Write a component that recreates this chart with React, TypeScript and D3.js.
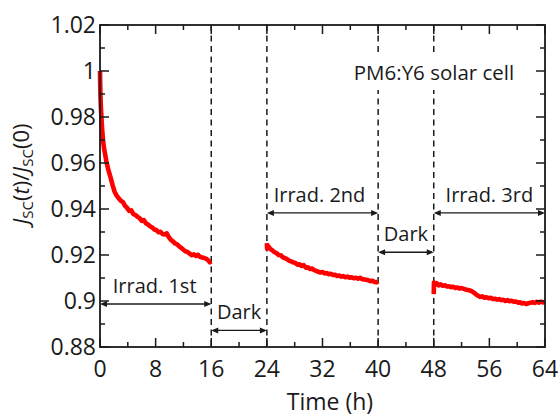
import React from "react";
import * as d3 from "d3";

const W = 559;
const H = 418;

const xTicksMajor = [0, 8, 16, 24, 32, 40, 48, 56, 64];
const yTickLabels = ["0.88", "0.9", "0.92", "0.94", "0.96", "0.98", "1", "1.02"];
const yTickValues = [0.88, 0.9, 0.92, 0.94, 0.96, 0.98, 1.0, 1.02];
const phaseBounds = [16, 24, 40, 48];

const irrad1: [number, number][] = [
  [0, 1.0], [0.03, 0.994], [0.08, 0.988], [0.13, 0.984], [0.2, 0.98], [0.3, 0.975], [0.43, 0.97],
  [0.6, 0.966], [0.9, 0.961], [1.2, 0.957], [1.5, 0.954], [1.8, 0.9505], [2.1, 0.9475],
  [2.4, 0.9458], [2.7, 0.9446], [3.0, 0.9436], [3.3, 0.9430], [3.6, 0.9414], [3.9, 0.9405],
  [4.2, 0.9392], [4.5, 0.9394], [4.8, 0.9378], [5.1, 0.9374], [5.4, 0.9366], [5.7, 0.9360],
  [6.0, 0.9348], [6.3, 0.9352], [6.6, 0.9338], [6.9, 0.9333], [7.2, 0.9325], [7.5, 0.9320],
  [7.8, 0.9311], [8.1, 0.9309], [8.4, 0.9299], [8.7, 0.9301], [9.0, 0.9291], [9.3, 0.9289],
  [9.6, 0.9294], [9.9, 0.9277], [10.2, 0.9266], [10.5, 0.9259], [10.8, 0.9250], [11.1, 0.9246],
  [11.4, 0.9237], [11.7, 0.9231], [12.0, 0.9223], [12.3, 0.9216], [12.6, 0.9213], [12.9, 0.9206],
  [13.2, 0.9199], [13.5, 0.9203], [13.8, 0.9196], [14.1, 0.9201], [14.4, 0.9191], [14.7, 0.9189],
  [15.0, 0.9187], [15.3, 0.9183], [15.6, 0.9176], [15.8, 0.9168], [16.0, 0.9172],
];

const irrad2: [number, number][] = [
  [24.0, 0.9252], [24.03, 0.9228], [24.2, 0.9238], [24.5, 0.9226], [24.8, 0.922], [25.1, 0.9212],
  [25.4, 0.9208], [25.7, 0.92], [26.0, 0.9199], [26.3, 0.919], [26.6, 0.9186], [26.9, 0.9182],
  [27.2, 0.9175], [27.5, 0.9172], [27.8, 0.9168], [28.1, 0.9165], [28.4, 0.9158], [28.7, 0.916],
  [29.0, 0.9152], [29.3, 0.9156], [29.6, 0.9145], [29.9, 0.9147], [30.2, 0.9139], [30.5, 0.9141],
  [30.8, 0.9134], [31.1, 0.9131], [31.4, 0.9127], [31.7, 0.9124], [32.0, 0.9126], [32.3, 0.912],
  [32.6, 0.9122], [32.9, 0.9116], [33.2, 0.9118], [33.5, 0.9113], [33.8, 0.9114], [34.1, 0.9109],
  [34.4, 0.9111], [34.7, 0.9106], [35.0, 0.9108], [35.3, 0.9103], [35.6, 0.9106], [35.9, 0.9101],
  [36.2, 0.9103], [36.5, 0.9099], [36.8, 0.9101], [37.1, 0.9097], [37.4, 0.9101], [37.7, 0.9095],
  [38.0, 0.9094], [38.3, 0.9092], [38.6, 0.909], [38.9, 0.9086], [39.2, 0.9088], [39.5, 0.9083],
  [39.8, 0.9081], [40.0, 0.9085],
];

const irrad3: [number, number][] = [
  [48.0, 0.903], [48.03, 0.908], [48.2, 0.907], [48.4, 0.9078], [48.7, 0.9068], [49.0, 0.9072],
  [49.3, 0.9066], [49.6, 0.9068], [49.9, 0.9063], [50.2, 0.9064], [50.5, 0.906], [50.8, 0.9062],
  [51.1, 0.9057], [51.4, 0.9059], [51.7, 0.9054], [52.0, 0.9056], [52.3, 0.9053], [52.6, 0.905],
  [52.9, 0.9048], [53.2, 0.9046], [53.5, 0.9042], [53.8, 0.9036], [54.1, 0.9028], [54.4, 0.9022],
  [54.7, 0.9018], [55.0, 0.902], [55.3, 0.9014], [55.6, 0.9016], [55.9, 0.9012], [56.2, 0.9014],
  [56.5, 0.9009], [56.8, 0.901], [57.1, 0.9006], [57.4, 0.9008], [57.7, 0.9004], [58.0, 0.9005],
  [58.3, 0.9], [58.6, 0.9004], [58.9, 0.8999], [59.2, 0.9001], [59.5, 0.8997], [59.8, 0.8998],
  [60.1, 0.8993], [60.4, 0.8994], [60.7, 0.8989], [61.0, 0.8991], [61.3, 0.8987], [61.6, 0.899],
  [61.9, 0.8992], [62.2, 0.8995], [62.5, 0.8992], [62.8, 0.8996], [63.1, 0.8993], [63.4, 0.8997],
  [63.7, 0.8994], [64.0, 0.8996],
];

const phaseLabels = ["Irrad. 1st", "Dark", "Irrad. 2nd", "Dark", "Irrad. 3rd"];
const phaseStart = [0, 16, 24, 40, 48];
const phaseEnd = [16, 24, 40, 48, 64];
const phaseArrowY = [0.8987, 0.8872, 0.9383, 0.9212, 0.9383];
const titleText = "PM6:Y6 solar cell";

const FONT = "'Open Sans', sans-serif";
const INK = "#1a1a1a";

export default function App() {
  const x = d3.scaleLinear().domain([0, 64]).range([100, 545]);
  const y = d3.scaleLinear().domain([0.88, 1.02]).range([347, 25]);
  const line = d3
    .line<[number, number]>()
    .x((d) => x(d[0]))
    .y((d) => y(d[1]));

  const xMinor = d3.range(0, 65, 4);
  const yMinor = d3.range(0, 15).map((i) => 0.88 + i * 0.01);
  const [x0, x1] = x.range();
  const [yb, yt] = y.range();

  const arrowHead = (px: number, py: number, dir: number) => {
    const L = 7;
    const h = 3;
    return `M${px},${py} L${px - dir * L},${py - h} L${px - dir * L},${py + h} Z`;
  };

  return (
    <svg
      width={W}
      height={H}
      style={{ position: "absolute", left: 0, top: 0, background: "#fff" }}
      fontFamily={FONT}
    >
      {phaseBounds.map((t) => (
        <line
          key={"d" + t}
          x1={x(t)}
          x2={x(t)}
          y1={yt}
          y2={yb}
          stroke={INK}
          strokeWidth={1.5}
          strokeDasharray="6,4.5"
        />
      ))}

      {[irrad1, irrad2, irrad3].map((seg, i) => (
        <path
          key={"s" + i}
          d={line(seg) || ""}
          fill="none"
          stroke="#ff0000"
          strokeWidth={4.6}
          strokeLinejoin="round"
          strokeLinecap="butt"
        />
      ))}

      <rect x={345} y={53} width={178} height={37} fill="#fff" />
      <text x={434} y={80} fontSize={20.5} textAnchor="middle" fill={INK}>
        {titleText}
      </text>

      {phaseLabels.map((lab, i) => {
        const ya = y(phaseArrowY[i]);
        const xa = x(phaseStart[i]);
        const xb = x(phaseEnd[i]);
        return (
          <g key={"p" + i}>
            <line x1={xa + 2} x2={xb - 2} y1={ya} y2={ya} stroke={INK} strokeWidth={1.3} />
            <path d={arrowHead(xb, ya, 1)} fill={INK} />
            <path d={arrowHead(xa, ya, -1)} fill={INK} />
            <text
              x={(xa + xb) / 2 + (i === 0 ? -1 : i === 2 ? -3 : 0)}
              y={ya - 11}
              fontSize={20}
              textAnchor="middle"
              fill={INK}
            >
              {lab}
            </text>
          </g>
        );
      })}

      <rect x={x0} y={yt} width={x1 - x0} height={yb - yt} fill="none" stroke={INK} strokeWidth={1.8} />

      {xMinor.map((t) => {
        const len = t % 8 === 0 ? 9 : 5;
        return (
          <g key={"xt" + t}>
            <line x1={x(t)} x2={x(t)} y1={yb} y2={yb - len} stroke={INK} strokeWidth={1.5} />
            <line x1={x(t)} x2={x(t)} y1={yt} y2={yt + len} stroke={INK} strokeWidth={1.5} />
          </g>
        );
      })}
      {yMinor.map((v, i) => {
        const len = i % 2 === 0 ? 9 : 5;
        return (
          <g key={"yt" + i}>
            <line x1={x0} x2={x0 + len} y1={y(v)} y2={y(v)} stroke={INK} strokeWidth={1.5} />
            <line x1={x1} x2={x1 - len} y1={y(v)} y2={y(v)} stroke={INK} strokeWidth={1.5} />
          </g>
        );
      })}

      {xTicksMajor.map((t) => (
        <text key={"xl" + t} x={x(t)} y={377} fontSize={23} textAnchor="middle" fill={INK}>
          {t}
        </text>
      ))}
      {yTickValues.map((v, i) => (
        <text key={"yl" + i} x={96} y={y(v) + 8} fontSize={23} textAnchor="end" fill={INK}>
          {yTickLabels[i]}
        </text>
      ))}

      <text x={330} y={410} fontSize={23} textAnchor="middle" fill={INK}>
        Time (h)
      </text>
      <text transform="translate(29,174) rotate(-90)" fontSize={22} textAnchor="middle" fill={INK}>
        <tspan fontStyle="italic">J</tspan>
        <tspan fontSize={15} dy={4}>SC</tspan>
        <tspan dy={-4}>(</tspan>
        <tspan fontStyle="italic">t</tspan>
        <tspan>)/</tspan>
        <tspan fontStyle="italic">J</tspan>
        <tspan fontSize={15} dy={4}>SC</tspan>
        <tspan dy={-4}>(0)</tspan>
      </text>
    </svg>
  );
}
